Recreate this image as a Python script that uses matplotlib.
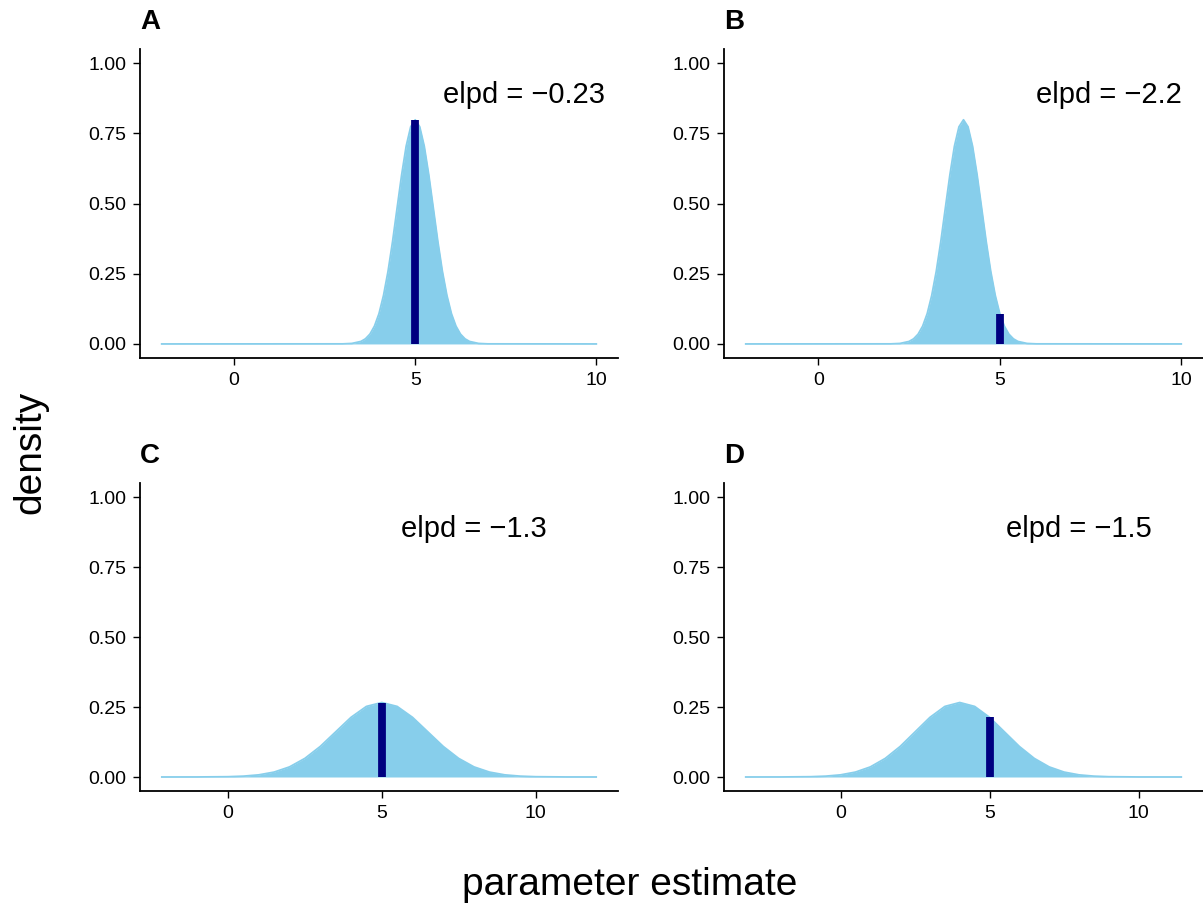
import numpy as np
import matplotlib
matplotlib.use("Agg")
import matplotlib.pyplot as plt

plt.rcParams['font.family'] = ['Liberation Sans', 'DejaVu Sans']

# density curves (x = parameter estimate, y = density)
a_x = [-2, 3.0, 3.25, 3.5, 3.625, 3.75, 3.875, 4.0, 4.125, 4.25, 4.375, 4.5, 4.625, 4.75, 4.875,
       5.0, 5.125, 5.25, 5.375, 5.5, 5.625, 5.75, 5.875, 6.0, 6.125, 6.25, 6.375, 6.5, 6.75, 7.0, 10]
a_y = [0, 0.0003, 0.0018, 0.0089, 0.0182, 0.035, 0.0635, 0.108, 0.173, 0.259, 0.365, 0.484, 0.602, 0.704, 0.773,
       0.798, 0.773, 0.704, 0.602, 0.484, 0.365, 0.259, 0.173, 0.108, 0.0635, 0.035, 0.0182, 0.0089, 0.0018, 0.0003, 0]

b_x = [-2, 2.0, 2.25, 2.5, 2.625, 2.75, 2.875, 3.0, 3.125, 3.25, 3.375, 3.5, 3.625, 3.75, 3.875,
       4.0, 4.125, 4.25, 4.375, 4.5, 4.625, 4.75, 4.875, 5.0, 5.125, 5.25, 5.375, 5.5, 5.75, 6.0, 10]
b_y = a_y

c_x = [-2.15, -1.0, 0.0, 0.5, 1.0, 1.5, 2.0, 2.5, 3.0, 3.5, 4.0, 4.5, 5.0,
       5.5, 6.0, 6.5, 7.0, 7.5, 8.0, 8.5, 9.0, 9.5, 10.0, 11.0, 11.97]
c_y = [0, 0.0001, 0.001, 0.003, 0.0076, 0.0175, 0.036, 0.0664, 0.109, 0.161, 0.213, 0.252, 0.266,
       0.252, 0.213, 0.161, 0.109, 0.0664, 0.036, 0.0175, 0.0076, 0.003, 0.001, 0.0001, 0]

d_x = [-3.18, -2.0, -1.0, -0.5, 0.0, 0.5, 1.0, 1.5, 2.0, 2.5, 3.0, 3.5, 4.0,
       4.5, 5.0, 5.5, 6.0, 6.5, 7.0, 7.5, 8.0, 8.5, 9.0, 10.0, 11.43]
d_y = c_y

# observed value and its density under each model
obs = 5
obs_dens = [0.798, 0.108, 0.266, 0.213]
elpd = ["\u22120.23", "\u22122.2", "\u22121.3", "\u22121.5"]
labels = ["A", "B", "C", "D"]

curves = [(a_x, a_y), (b_x, b_y), (c_x, c_y), (d_x, d_y)]
xlims = [(-2.6, 10.6), (-2.6, 10.6), (-2.86, 12.68), (-3.91, 12.16)]

W, H = 1203, 906
fig = plt.figure(figsize=(W / 100, H / 100), dpi=100)

boxes = [(140, 49, 618, 358), (724, 49, 1203, 358),
         (140, 483, 618, 791), (724, 483, 1203, 791)]

for i, (l, t, r, b) in enumerate(boxes):
    ax = fig.add_axes([l / W, 1 - b / H, (r - l) / W, (b - t) / H])
    x, y = curves[i]
    ax.fill_between(x, y, 0, color="skyblue", linewidth=0)
    ax.plot(x, y, color="skyblue", linewidth=1.3)
    ax.vlines(obs, 0, obs_dens[i], color="navy", linewidth=5.6, capstyle="butt")
    ax.text(8, 0.885, "elpd = " + elpd[i], fontsize=21, ha="center", va="center")
    ax.set_xlim(*xlims[i])
    ax.set_ylim(-0.05, 1.05)
    ax.set_xticks([0, 5, 10])
    ax.set_yticks([0, 0.25, 0.5, 0.75, 1.0])
    ax.set_yticklabels(["0.00", "0.25", "0.50", "0.75", "1.00"])
    for s in ["top", "right"]:
        ax.spines[s].set_visible(False)
    for s in ["left", "bottom"]:
        ax.spines[s].set_linewidth(1.3)
    ax.tick_params(labelsize=14, length=5, width=1, pad=5)
    fig.text((l + 10) / W, 1 - (t - 27) / H, labels[i], fontsize=20,
             fontweight="bold", ha="center", va="center")

fig.text(30 / W, 1 - 452 / H, "density", fontsize=28, rotation=90, ha="center", va="center")
fig.text(630 / W, 1 - 885 / H, "parameter estimate", fontsize=28, ha="center", va="center")

fig.savefig("out.png", dpi=100)
